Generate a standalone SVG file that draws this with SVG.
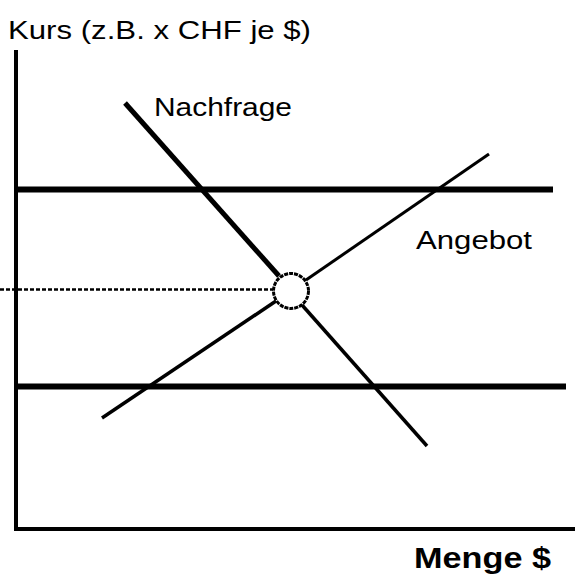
<svg xmlns="http://www.w3.org/2000/svg" width="575" height="581" viewBox="0 0 575 581">
<style>
.t{font-family:"Liberation Sans",Arial,sans-serif;fill:#000}
.ln{stroke:#000;fill:none}
</style>
<rect width="575" height="581" fill="#fff"/>
<g id="axes">
<line class="ln" x1="16" y1="50" x2="16" y2="531" stroke-width="4"/>
<line class="ln" x1="14" y1="529" x2="575" y2="529" stroke-width="4"/>
</g>
<g id="limits">
<line class="ln" x1="14" y1="189.5" x2="553" y2="189.5" stroke-width="6"/>
<line class="ln" x1="14" y1="386.5" x2="566" y2="386.5" stroke-width="6"/>
</g>
<g id="connectors">
<line class="ln" x1="125" y1="103" x2="279" y2="276" stroke-width="5"/>
<line class="ln" x1="302" y1="305" x2="427" y2="446" stroke-width="3.5"/>
<line class="ln" x1="102" y1="418" x2="276" y2="301" stroke-width="3.5"/>
<line class="ln" x1="306" y1="280" x2="489" y2="154" stroke-width="3"/>
<line class="ln" x1="0" y1="289.5" x2="273" y2="289.5" stroke-width="2.5" stroke-dasharray="4,2"/>
</g>
<g id="equilibrium">
<circle class="ln" cx="291" cy="291" r="17.5" stroke-width="3" stroke-dasharray="4,1"/>
</g>
<g id="labels">
<text class="t" x="8" y="39" font-size="25" textLength="303" lengthAdjust="spacingAndGlyphs">Kurs (z.B. x CHF je $)</text>
<text class="t" x="154" y="116" font-size="26" textLength="138" lengthAdjust="spacingAndGlyphs">Nachfrage</text>
<text class="t" x="416" y="249" font-size="26" textLength="116" lengthAdjust="spacingAndGlyphs">Angebot</text>
<text class="t" x="414" y="568" font-size="29" font-weight="bold" textLength="137" lengthAdjust="spacingAndGlyphs">Menge $</text>
</g>
</svg>
